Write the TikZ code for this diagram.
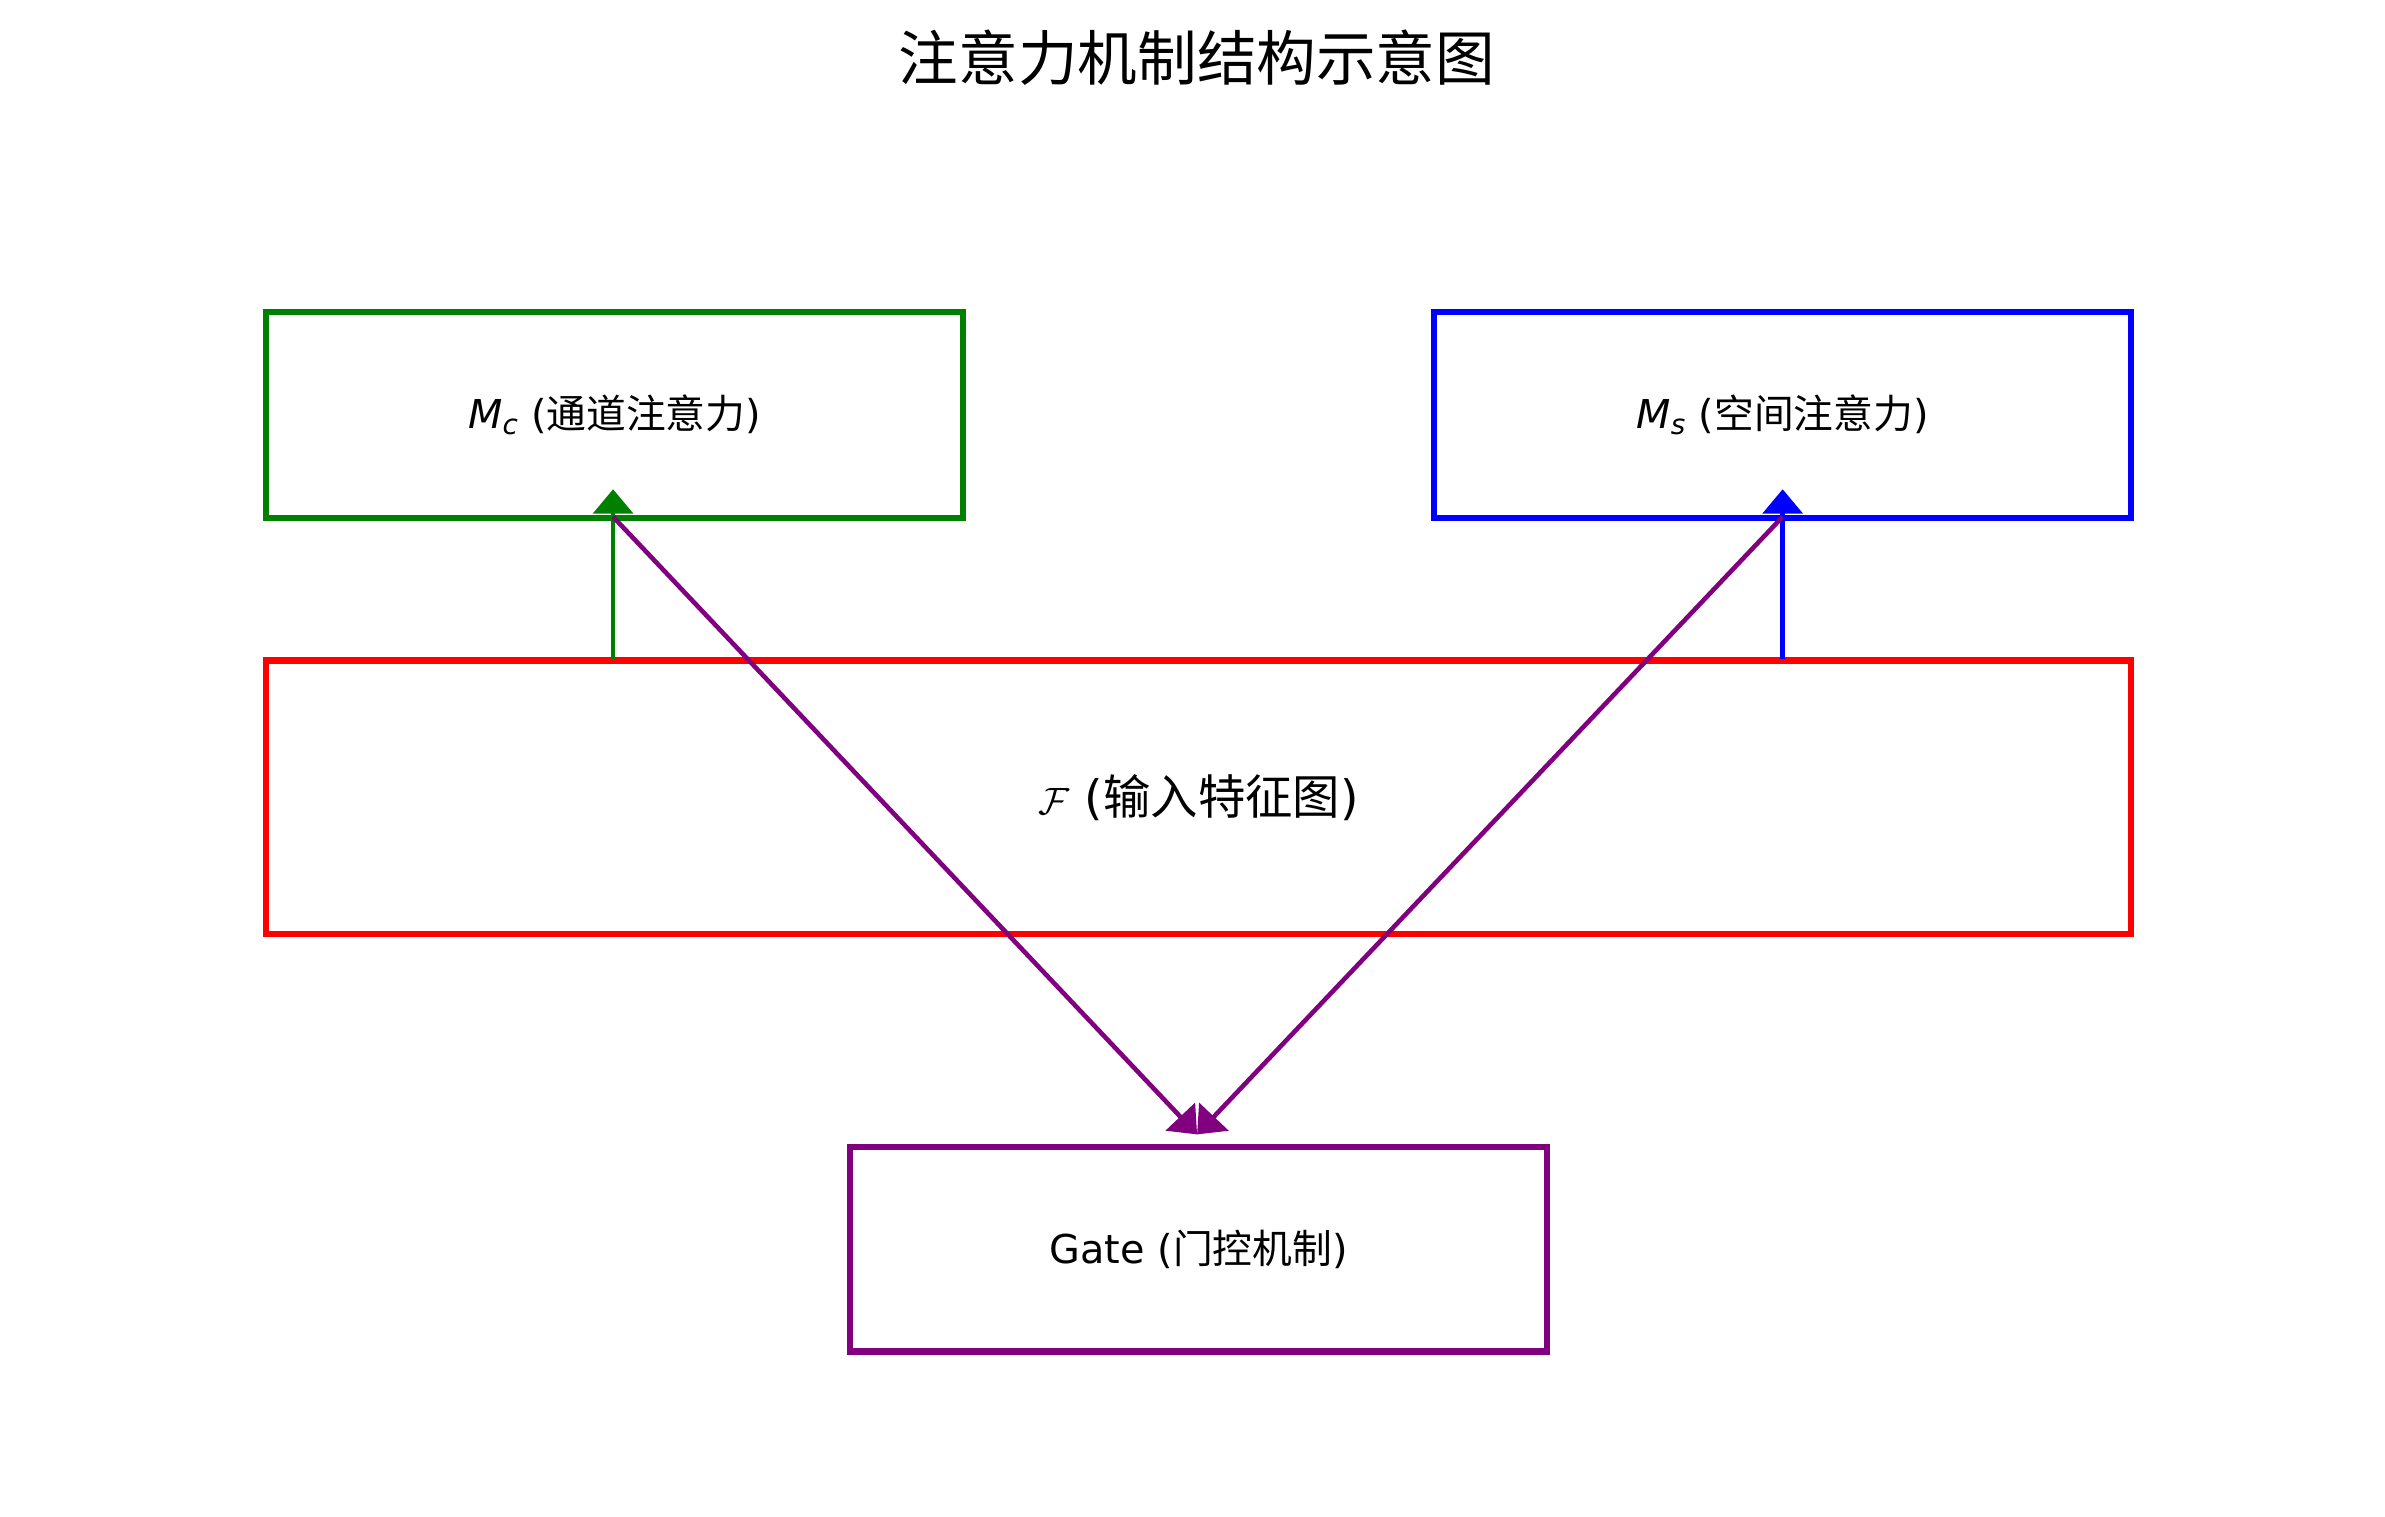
\documentclass[tikz,border=0pt]{standalone}
\usepackage{fontspec}
\setmainfont{DejaVu Sans}
\newfontfamily\cjk{Noto Sans CJK SC}
\usetikzlibrary{arrows.meta}
\definecolor{mgreen}{RGB}{0,128,0}
\definecolor{mpurple}{RGB}{128,0,128}
\begin{document}
\begin{tikzpicture}[x=1pt,y=-1pt,
  box/.style={draw,line width=4pt,inner sep=0pt},
  conn/.style={line width=3pt,-{Triangle[length=16pt,width=26pt]}},
  lbl/.style={font=\fontsize{26}{30}\selectfont}]
\useasboundingbox (0,0) rectangle (1560,992);
\node[font=\cjk\fontsize{39}{44}\selectfont] (title) at (783,38) {注意力机制结构示意图};
\node[box,draw=mgreen,minimum width=456pt,minimum height=135pt] (mc) at (402,271.5) {};
\node[lbl] at (mc) {\textit{M}\textsubscript{\textit{c}} ({\cjk 通道注意力})};
\node[box,draw=blue,minimum width=456pt,minimum height=135pt] (ms) at (1166,271.5) {};
\node[lbl] at (ms) {\textit{M}\textsubscript{\textit{s}} ({\cjk 空间注意力})};
\node[box,draw=red,minimum width=1220pt,minimum height=179pt] (f) at (784,521.5) {};
\node[font=\fontsize{31}{35}\selectfont] at (f) {$\mathcal{F}$ ({\cjk 输入特征图})};
\node[box,draw=mpurple,minimum width=456pt,minimum height=134pt] (g) at (784,817) {};
\node[lbl] at (g) {Gate ({\cjk 门控机制})};
\coordinate (mcb) at (401,338);
\coordinate (msb) at (1166,338);
\coordinate (gt) at (783,742);
\draw[conn,mgreen] (401,431) -- (401,320);
\draw[conn,blue] (1166,431) -- (1166,320);
\draw[conn,mpurple] (mcb) -- (gt);
\draw[conn,mpurple] (msb) -- (gt);
\end{tikzpicture}
\end{document}
